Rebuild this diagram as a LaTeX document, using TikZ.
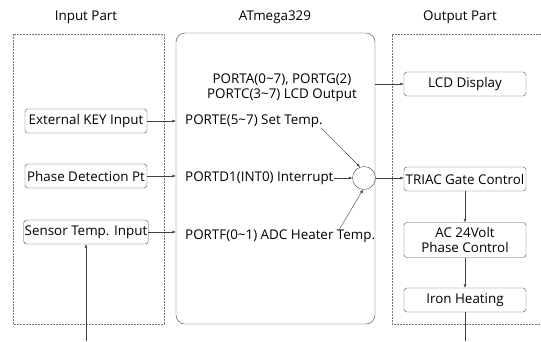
\documentclass[tikz,border=0pt]{standalone}
\usepackage{fontspec}
\setmainfont{Open Sans}
\usetikzlibrary{arrows.meta, positioning}

\begin{document}
\begin{tikzpicture}[
        x=1pt, y=-1pt,
        font=\fontsize{13.4}{15}\selectfont,
        block/.style={rectangle, draw=black!70, rounded corners=3pt, minimum width=122pt, minimum height=24pt, inner sep=1pt, align=center},
        part/.style={draw=black!55, dash pattern=on 2pt off 1pt},
        port/.style={anchor=west, inner sep=0pt},
        line/.style={draw=black!75, -{Latex[length=3.5pt,width=3pt]}}
    ]
        \useasboundingbox (0,0) rectangle (541,341);

        % titles and frames
        \node (tin) at (86,17) {Input Part};
        \node (tmcu) at (275,17) {ATmega329};
        \node (tout) at (460,17) {Output Part};
        \draw[part] (13,34) rectangle (164,324);
        \draw[part] (541,34) -- (392,34) -- (392,324) -- (541,324);
        \node [draw=black!75, rounded corners=9pt, minimum width=199pt, minimum height=291pt] (mcu) at (275.5,178.5) {};

        % input part
        \node [block] (key) at (86,121) {External KEY Input};
        \node [block] (phase) at (86,176) {Phase Detection Pt};
        \node [block] (sensor) at (86,232) {Sensor Temp. Input};
        \coordinate (probe) at (86,341);

        % ATmega329 ports
        \node [align=center, inner sep=0pt] (portac) at (282,88) {PORTA(0\textasciitilde7), PORTG(2)\\PORTC(3\textasciitilde7) LCD Output};
        \node [port] (porte) at (185,121) {PORTE(5\textasciitilde7) Set Temp.};
        \node [port] (portd) at (185,178) {PORTD1(INT0) Interrupt};
        \node [port] (portf) at (185,236) {PORTF(0\textasciitilde1) ADC Heater Temp.};
        \node [circle, draw=black!75, minimum size=23pt, inner sep=0pt] (sum) at (364,178) {};

        % output part
        \node [block] (lcd) at (465,84) {LCD Display};
        \node [block] (triac) at (465,179) {TRIAC Gate Control};
        \node [block, minimum height=35pt] (ac) at (465,240) {AC 24Volt\\Phase Control};
        \node [block] (iron) at (465,300) {Iron Heating};
        \coordinate (heat) at (465,341);

        \path [line] (key) -- (key -| mcu.west);
        \path [line] (phase) -- (phase -| mcu.west);
        \path [line] (sensor) -- (sensor -| mcu.west);
        \path [line] (probe) -- (sensor);
        \path [line] (mcu.east |- lcd) -- (lcd);
        \path [line] ([xshift=-2pt]porte.south east) -- (sum.110);
        \path [line] (portd) -- (sum);
        \path [line] ([xshift=-36pt]portf.north east) -- (sum.265);
        \path [line] (sum.east) -- (sum.east -| triac.west);
        \path [line] (triac) -- (ac);
        \path [line] (ac) -- (iron);
        \draw [draw=black!75] (iron) -- (heat);
    \end{tikzpicture}
\end{document}
